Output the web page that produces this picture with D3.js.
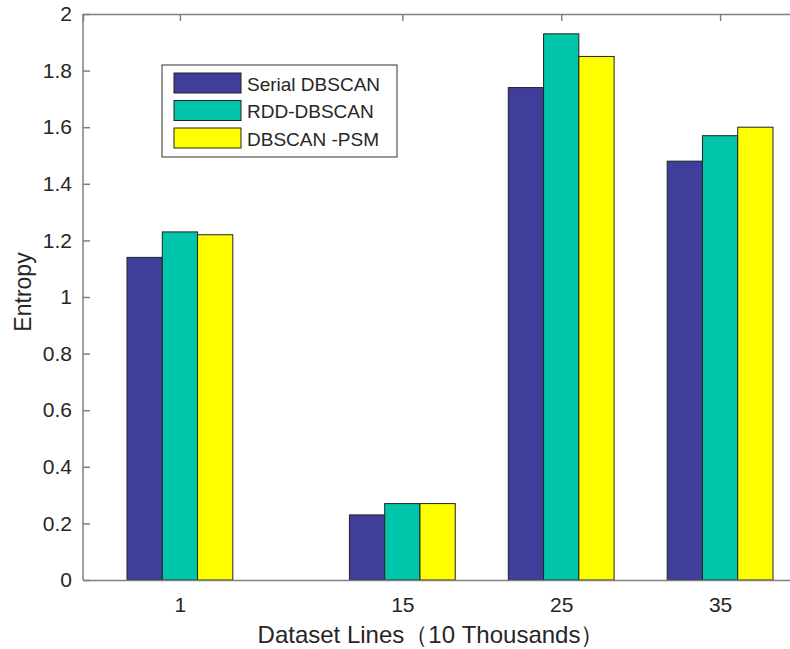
<!doctype html>
<html>
  <head>
    <script src="https://cdn.jsdelivr.net/npm/d3@7/dist/d3.min.js"></script>
    <style>
      body { margin: 0; background: #fff; }
      text { font-family: Arial, "Liberation Sans", sans-serif; fill: #262626; }
    </style>
  </head>
  <body>
    <svg id="chart" width="790" height="649"></svg>
    <script>
      var categories = [1, 15, 25, 35];
      var seriesNames = ["Serial DBSCAN", "RDD-DBSCAN", "DBSCAN -PSM"];
      var serialDbscan = [1.14, 0.23, 1.74, 1.48];
      var rddDbscan = [1.23, 0.27, 1.93, 1.57];
      var dbscanPsm = [1.22, 0.27, 1.85, 1.60];
      var yTicks = [0, 0.2, 0.4, 0.6, 0.8, 1, 1.2, 1.4, 1.6, 1.8, 2];
      var colors = ["#3f3f9b", "#00c5aa", "#ffff00"];

      var series = [serialDbscan, rddDbscan, dbscanPsm];
      var plotL = 83, plotT = 14, plotB = 580, plotR = 817;

      var svg = d3.select("#chart");

      var x = d3.scaleLinear().domain([-5.1, 41.1]).range([plotL, plotR]);
      var y = d3.scaleLinear().domain([0, 2]).range([plotB, plotT]);
      var barW = x(1 + 2.22) - x(1); // width of one bar in pixels

      // bars
      series.forEach(function(vals, s) {
        svg.append("g").selectAll("rect")
          .data(vals)
          .enter().append("rect")
            .attr("x", (d, i) => x(categories[i]) + (s - 1.5) * barW)
            .attr("y", d => y(d))
            .attr("width", barW)
            .attr("height", d => y(0) - y(d))
            .attr("fill", colors[s])
            .attr("stroke", "#222")
            .attr("stroke-width", 1);
      });

      // axes (MATLAB-style, ticks inward)
      var axisColor = "#808080";
      var yAxis = d3.axisLeft(y).tickValues(yTicks).tickSize(-7).tickPadding(11)
        .tickFormat(d => d3.format("~g")(d));
      var gy = svg.append("g").attr("transform", "translate(" + plotL + ",0)").call(yAxis);

      var xAxis = d3.axisBottom(x).tickValues(categories).tickSize(0).tickPadding(17);
      var gx = svg.append("g").attr("transform", "translate(0," + plotB + ")").call(xAxis);

      var xTop = d3.axisTop(x).tickValues(categories).tickSize(-7).tickFormat("");
      var gt = svg.append("g").attr("transform", "translate(0," + plotT + ")").call(xTop);

      [gy, gx, gt].forEach(function(g) {
        g.attr("font-size", 21);
        g.select(".domain").attr("stroke", axisColor).attr("stroke-width", 1.5);
        g.selectAll(".tick line").attr("stroke", axisColor).attr("stroke-width", 1.5);
      });
      gy.select(".domain").attr("d", "M0," + plotB + "V" + plotT);

      // axis labels
      svg.append("text")
        .attr("x", 431).attr("y", 643)
        .attr("text-anchor", "middle")
        .style("font-size", "24px")
        .text("Dataset Lines（10 Thousands）");

      svg.append("text")
        .attr("transform", "translate(31,292) rotate(-90)")
        .attr("text-anchor", "middle")
        .style("font-size", "23px")
        .text("Entropy");

      // legend
      var lg = svg.append("g");
      lg.append("rect")
        .attr("x", 162).attr("y", 65).attr("width", 235).attr("height", 92)
        .attr("fill", "#fff").attr("stroke", "#333").attr("stroke-width", 1);
      seriesNames.forEach(function(name, i) {
        lg.append("rect")
          .attr("x", 174).attr("y", 73 + i * 27.5).attr("width", 67).attr("height", 20)
          .attr("fill", colors[i]).attr("stroke", "#222");
        lg.append("text")
          .attr("x", 247).attr("y", 84 + i * 27.5)
          .attr("dy", "0.35em")
          .style("font-size", "19px")
          .text(name);
      });
    </script>
  </body>
</html>
